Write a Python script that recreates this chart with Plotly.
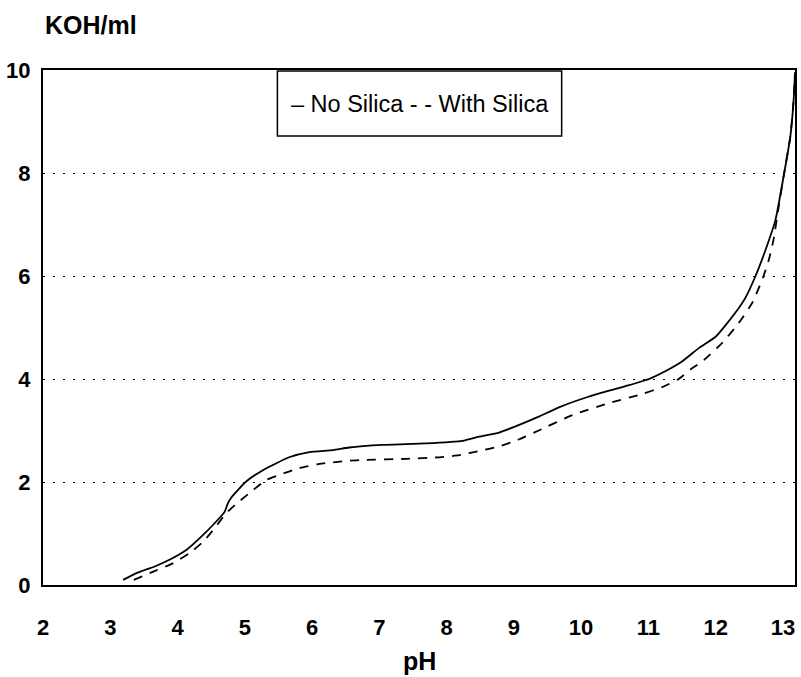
import plotly.graph_objects as go

# Data
series_names = ["No Silica", "With Silica"]

ph_no_silica = [3.19, 3.39, 3.66, 3.88, 4.13, 4.33, 4.53, 4.70, 4.75, 4.80, 5.02, 5.27,
                5.66, 5.96, 6.31, 6.55, 7.05, 7.69, 8.24, 8.48, 8.78, 9.08, 9.37, 9.67,
                10.12, 10.66, 11.01, 11.25, 11.50, 11.75, 12.00, 12.29, 12.44, 12.59,
                12.74, 12.89, 13.01, 13.11, 13.16, 13.18]
koh_no_silica = [0.10, 0.23, 0.36, 0.49, 0.68, 0.91, 1.17, 1.42, 1.59, 1.70, 2.01, 2.23,
                 2.48, 2.58, 2.62, 2.67, 2.72, 2.75, 2.80, 2.88, 2.96, 3.11, 3.27, 3.45,
                 3.66, 3.86, 4.00, 4.15, 4.34, 4.60, 4.82, 5.28, 5.57, 5.99,
                 6.50, 7.09, 7.93, 8.70, 9.42, 9.95]

ph_with_silica = [3.35, 3.64, 3.93, 4.18, 4.38, 4.55, 4.72, 4.87, 5.12, 5.32, 5.52, 5.81,
                  6.11, 6.51, 6.80, 7.40, 7.89, 8.19, 8.48, 8.78, 9.08, 9.37, 9.87, 10.41,
                  10.91, 11.20, 11.45, 11.65, 11.80, 12.09, 12.34, 12.54, 12.69, 12.79,
                  12.86, 12.93, 13.01, 13.11, 13.16, 13.18]
koh_with_silica = [0.10, 0.26, 0.42, 0.62, 0.84, 1.10, 1.39, 1.57, 1.84, 2.04, 2.14, 2.27,
                   2.35, 2.41, 2.43, 2.45, 2.48, 2.52, 2.60, 2.69, 2.83, 3.00, 3.30, 3.53,
                   3.71, 3.84, 4.00, 4.21, 4.34, 4.69, 5.08, 5.47, 5.92, 6.31,
                   6.70, 7.28, 7.93, 8.70, 9.42, 9.95]

x_ticks = [2, 3, 4, 5, 6, 7, 8, 9, 10, 11, 12, 13]
y_ticks = [0, 2, 4, 6, 8, 10]

FONT = "Liberation Sans, Arial, sans-serif"
WEIGHT = 700

fig = go.Figure()
fig.add_trace(go.Scatter(x=ph_no_silica, y=koh_no_silica, mode="lines",
                         name=series_names[0],
                         line=dict(color="black", width=1.8, shape="spline", smoothing=0.5)))
fig.add_trace(go.Scatter(x=ph_with_silica, y=koh_with_silica, mode="lines",
                         name=series_names[1],
                         line=dict(color="black", width=1.8, dash="9px,8px",
                                   shape="spline", smoothing=0.5)))

fig.update_layout(
    width=801, height=677, autosize=False,
    margin=dict(l=43, r=4, t=70, b=92),
    paper_bgcolor="white", plot_bgcolor="white",
    showlegend=False,
    font=dict(family=FONT, color="black", size=22, weight=WEIGHT),
)
fig.update_xaxes(
    range=[2, 13.18], tickvals=x_ticks, ticktext=[str(v) for v in x_ticks],
    showgrid=False, zeroline=False,
    showline=True, linecolor="black", linewidth=2, mirror=True,
    ticks="", ticklabelstandoff=22,
    tickfont=dict(size=22, family=FONT, weight=WEIGHT),
)
fig.update_yaxes(
    range=[0, 10], tickvals=y_ticks, ticktext=[str(v) for v in y_ticks],
    showgrid=True, gridcolor="black", gridwidth=1.2, griddash="2px,8px",
    zeroline=False,
    showline=True, linecolor="black", linewidth=2, mirror=True,
    ticks="", ticklabelstandoff=6,
    tickfont=dict(size=22, family=FONT, weight=WEIGHT),
)

# Axis titles
fig.add_annotation(text="KOH/ml", xref="paper", yref="paper", x=0.0, y=1.087,
                   xanchor="left", yanchor="middle", showarrow=False,
                   font=dict(size=25, family=FONT, weight=WEIGHT))
fig.add_annotation(text="pH", xref="paper", yref="paper", x=0.5, y=-0.148,
                   xanchor="center", yanchor="middle", showarrow=False,
                   font=dict(size=25, family=FONT, weight=WEIGHT))

# Legend box
fig.add_shape(type="rect", xref="paper", yref="paper", x0=0.3117, x1=0.6897,
              y0=0.872, y1=0.998, line=dict(color="black", width=1.5),
              fillcolor="white", layer="above")
fig.add_annotation(text=f"\u2013 {series_names[0]} - - {series_names[1]}",
                   xref="paper", yref="paper", x=0.5007, y=0.934,
                   xanchor="center", yanchor="middle", showarrow=False,
                   font=dict(size=23.5, family=FONT, weight=400))

fig.write_html("out.html")
